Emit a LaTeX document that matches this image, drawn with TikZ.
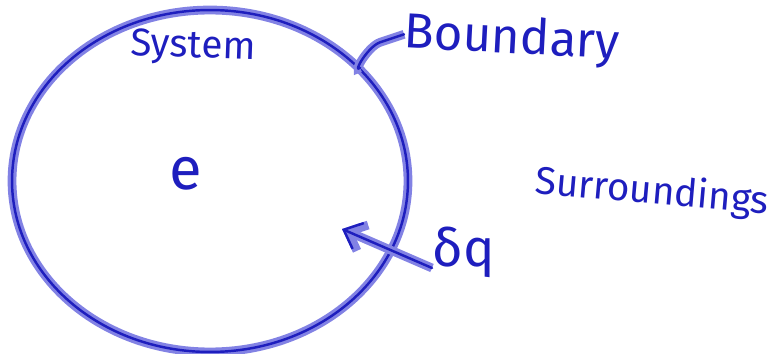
\documentclass[tikz,border=0pt]{standalone}
\usepackage{fontspec}
\setmainfont{Fira Sans}
\usetikzlibrary{shapes.geometric, arrows.meta, positioning, calc}
\definecolor{penink}{RGB}{30, 30, 190}
\definecolor{penhalo}{RGB}{130, 130, 228}
\tikzset{
    pen/.style={draw=penink, line width=1.4pt, line cap=round, line join=round,
                preaction={draw=penhalo, line width=5pt}},
    ink/.style={text=penink, inner sep=0pt}
}

\begin{document}
\begin{tikzpicture}[x=0.02cm, y=-0.02cm]
    \useasboundingbox (0,0) rectangle (776,354);
    \node[pen, ellipse, minimum width=7.92cm, minimum height=6.84cm, inner sep=0pt] (sysbound) at (210,181) {};
    \node[ink, font=\fontsize{22}{22}\selectfont, rotate=-2] (sys) at (193,48) {System};
    \node[ink, font=\fontsize{28}{28}\selectfont, rotate=-3] (bnd) at (512,40) {Boundary};
    \node[ink, font=\fontsize{34}{34}\selectfont] (energy) at (186,174) {e};
    \node[ink, font=\fontsize{22}{22}\selectfont, rotate=-5] (surr) at (652,193) {Surroundings};
    \node[ink, font=\fontsize{30}{30}\selectfont] (heat) at (464,252) {δq};
    \coordinate (qtail) at (432,268);
    \coordinate (qtip) at (342,229);
    \draw[pen] (bnd.west) -- ++(-24,8) .. controls ++(-12,4) and ++(-8,6) .. (sysbound.37);
    \draw[pen, -{Straight Barb[length=9pt, width=16pt]}] (qtail) -- (qtip);
\end{tikzpicture}
\end{document}
